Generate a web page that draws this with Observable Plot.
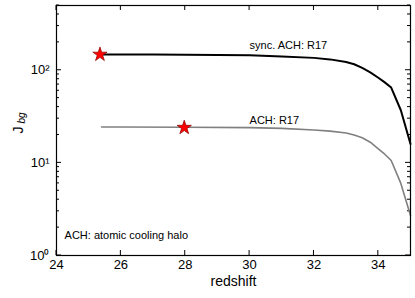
<!DOCTYPE html>
<html><head><meta charset="utf-8">
<script src="https://cdn.jsdelivr.net/npm/d3@7"></script>
<script src="https://cdn.jsdelivr.net/npm/@observablehq/plot@0.6"></script>
<style>body{margin:0;background:#fff}</style>
</head><body><div id="chart"></div>
<script>
const syncZ = [25.35, 26, 27, 28, 29, 30, 31, 32, 32.5, 33, 33.25, 33.5, 33.75, 34, 34.2, 34.4, 34.7, 35];
const syncJ = [148, 148, 147.5, 147, 146, 145, 141, 136, 131, 123, 116, 106, 95, 83, 74, 65, 37, 16];
const achZ = [25.4, 26, 28, 30, 31, 32, 32.5, 33, 33.25, 33.5, 33.75, 34, 34.2, 34.4, 34.7, 35];
const achJ = [24.4, 24.4, 24.2, 24, 23.6, 22.6, 22, 21, 20, 18.7, 16.7, 14.2, 12.4, 10.6, 6, 2.7];
const starZ = [25.35, 27.97];
const starJ = [148, 24];
const labels = ["sync. ACH: R17", "ACH: R17", "ACH: atomic cooling halo"];
const labelZ = [30, 30, 24.25];
const labelJ = [186, 29, 1.64];
const xTicks = [24, 26, 28, 30, 32, 34];
const yMajor = [1, 10, 100];
const sup = {0: "⁰", 1: "¹", 2: "²"};

const sync = syncZ.map((z, i) => ({z, j: syncJ[i]}));
const ach = achZ.map((z, i) => ({z, j: achJ[i]}));
const stars = starZ.map((z, i) => ({z, j: starJ[i]}));
const texts = labels.map((t, i) => ({t, z: labelZ[i], j: labelJ[i]}));
const yMinor = [];
for (const d of [1, 10, 100]) for (let k = 2; k <= 9; k++) if (d * k <= 500) yMinor.push(d * k);

// inside tick marks drawn with the plot's own scales
function insideTicks(index, scales, values, dim) {
  const g = d3.create("svg:g").attr("stroke", "#000").attr("stroke-width", 1);
  const x0 = dim.marginLeft, x1 = dim.width - dim.marginRight;
  const y0 = dim.marginTop, y1 = dim.height - dim.marginBottom;
  const add = (xa, ya, xb, yb) => g.append("line").attr("x1", xa).attr("y1", ya).attr("x2", xb).attr("y2", yb);
  for (const v of yMajor) { const y = scales.y(v); add(x0, y, x0 + 5, y); add(x1, y, x1 - 5, y); }
  for (const v of yMinor) { const y = scales.y(v); add(x0, y, x0 + 3, y); add(x1, y, x1 - 3, y); }
  for (const v of xTicks) { const x = scales.x(v); add(x, y1, x, y1 - 5); add(x, y0, x, y0 + 5); }
  return g.node();
}

const W = 415, H = 298;
const plot = Plot.plot({
  width: W, height: H,
  marginLeft: 56, marginRight: 5, marginTop: 5, marginBottom: 43,
  style: {fontFamily: "'Liberation Sans', Arial, sans-serif", fontSize: "13px", background: "#fff"},
  x: {domain: [24, 35]},
  y: {type: "log", domain: [1, 500]},
  marks: [
    Plot.axisX({ticks: xTicks, tickSize: 0, tickPadding: 4, label: null, fontSize: 13}),
    Plot.axisY({ticks: yMajor, tickSize: 0, tickPadding: 7, label: null, fontSize: 13,
      tickFormat: d => "10" + sup[Math.round(Math.log10(d))]}),
    insideTicks,
    Plot.line(sync, {x: "z", y: "j", stroke: "#000", strokeWidth: 2}),
    Plot.line(ach, {x: "z", y: "j", stroke: "#808080", strokeWidth: 1.6}),
    Plot.dot(stars, {x: "z", y: "j", symbol: "star", r: 4.5, fill: "#ff0000", stroke: "#8b0000", strokeWidth: 0.7}),
    Plot.text(texts, {x: "z", y: "j", text: "t", textAnchor: "start", fontSize: 11, fill: "#000"}),
    Plot.text(["redshift"], {frameAnchor: "bottom", dy: 30, fontSize: 14, fill: "#000"}),
    Plot.text(["J"], {frameAnchor: "left", dx: -38, dy: 3, rotate: -90, fontSize: 14, fill: "#000"}),
    Plot.text(["bg"], {frameAnchor: "left", dx: -35, dy: -7, rotate: -90, fontSize: 10, fontStyle: "italic", fill: "#000"}),
    Plot.frame({stroke: "#000", strokeWidth: 1.2})
  ]
});
document.getElementById("chart").appendChild(plot);
</script>
</body></html>
